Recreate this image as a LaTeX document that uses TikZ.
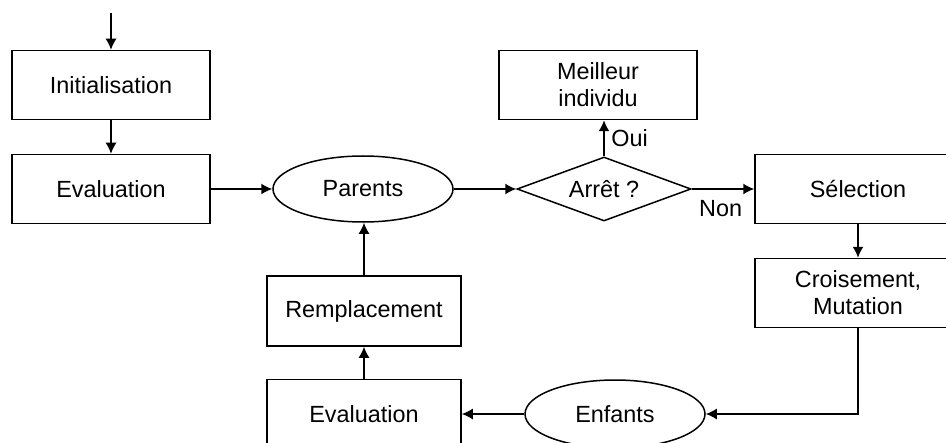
\documentclass[tikz,border=0pt]{standalone}
\usepackage{fontspec}
\setmainfont{Liberation Sans}
\usetikzlibrary{shapes,arrows.meta}
\tikzset{%
nodebox/.style={draw,minimum width=99pt,minimum height=34.5pt,inner sep=0pt,align=center},
nodeell/.style={draw,shape=ellipse,minimum width=90pt,minimum height=33pt,inner sep=0pt},
nodedia/.style={draw,shape=diamond,aspect=2.7,minimum width=87pt,minimum height=32pt,inner sep=0pt},
}

\begin{document}
\begin{tikzpicture}[x=0.5pt,y=-0.5pt,line width=0.75pt,
    font=\fontsize{11.7}{13.5}\selectfont,>={Latex[length=5.5pt,width=5.5pt]}]
        \clip (0,0) rectangle (946,443);
        \coordinate (D) at (111,13);
        \node[nodebox] (I) at (111,85) {Initialisation};
        \node[nodebox] (E) at (111,189) {Evaluation};
        \node[nodeell] (P) at (363,189) {Parents};
        \node[nodedia] (A) at (604,189) {Arrêt ?};
        \node[nodebox] (M) at (598,85) {Meilleur\\individu};
        \node[nodebox,minimum width=103pt] (S) at (858,189) {Sélection};
        \node[nodebox,minimum width=103pt] (C) at (858,293) {Croisement,\\Mutation};
        \node[nodeell,minimum height=34pt] (F) at (615,414) {Enfants};
        \node[nodebox,minimum width=97pt] (V) at (364,414) {Evaluation};
        \node[nodebox,minimum width=97pt,minimum height=35pt] (R) at (364,311) {Remplacement};
        \draw[->](D)--(I);
        \draw[->](I)--(E);
        \draw[->](E)--(P);
        \draw[->](P)--(A);
        \draw[->](A.north)--node[midway,right]{Oui}(A.north|-M.south);
        \draw[->](A.east)--node[pos=0,below right,yshift=-2pt]{Non}(S.west);
        \draw[->](S)--(C);
        \draw[->](C.south)|-(F.east);
        \draw[->](F)--(V);
        \draw[->](V)--(R);
        \draw[->](R.north)--(R.north|-P.south);
\end{tikzpicture}
\end{document}
